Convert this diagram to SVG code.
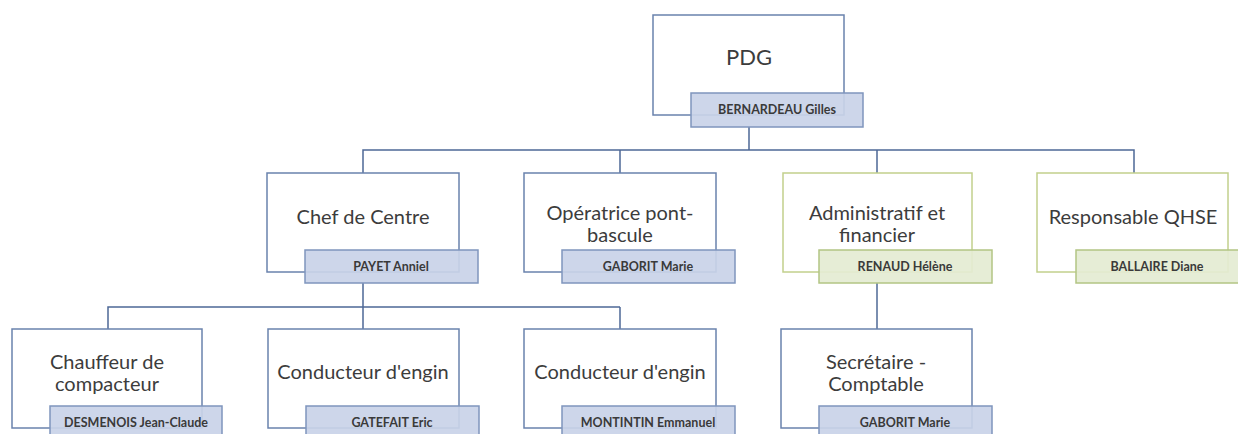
<svg xmlns="http://www.w3.org/2000/svg" width="1238" height="434" viewBox="0 0 1238 434">
<style>
.bb{fill:#fff;stroke:#6a82ad;stroke-width:1.5}
.gb{fill:#fff;stroke:#c2d08c;stroke-width:1.5}
.bn{fill:#c9d3e8;fill-opacity:0.92;stroke:#7f95bd;stroke-width:1.5}
.gn{fill:#e4ebd3;fill-opacity:0.92;stroke:#b3c584;stroke-width:1.5}
.t{font-family:Lato,"Open Sans",sans-serif;font-size:20px;fill:#3c3c3c;text-anchor:middle}
.tp{font-family:Lato,"Open Sans",sans-serif;font-size:22px;fill:#3c3c3c;text-anchor:middle}
.n{font-family:Lato,"Open Sans",sans-serif;font-size:12.5px;font-weight:bold;fill:#3a3a3a;text-anchor:middle}
.c{fill:none;stroke:#4e6896;stroke-width:1.5}
</style>
<g id="connectors">
<path class="c" d="M749 127V150M363 173V150H1134V173M620 150V173M877 150V173"/>
<path class="c" d="M363 283V307H108V329M620 307V329M363 307H620M363 307V329"/>
<path class="c" d="M877 283V329"/>
</g>
<g id="pdg">
<rect class="bb" x="653" y="15" width="191" height="100"/>
<text class="tp" x="749" y="65">PDG</text>
<rect class="bn" x="691" y="93" width="172" height="34"/>
<text class="n" x="777" y="114">BERNARDEAU Gilles</text>
</g>
<g id="chef">
<rect class="bb" x="267" y="173" width="192" height="99"/>
<text class="t" x="363" y="224">Chef de Centre</text>
<rect class="bn" x="305" y="250" width="173" height="33"/>
<text class="n" x="391" y="271">PAYET Anniel</text>
</g>
<g id="operatrice">
<rect class="bb" x="524" y="173" width="192" height="99"/>
<text class="t" x="620" y="220">Opératrice pont-</text>
<text class="t" x="620" y="242">bascule</text>
<rect class="bn" x="562" y="250" width="173" height="33"/>
<text class="n" x="648" y="271">GABORIT Marie</text>
</g>
<g id="admin">
<rect class="gb" x="783" y="173" width="189" height="99"/>
<text class="t" x="877" y="220">Administratif et</text>
<text class="t" x="877" y="242">financier</text>
<rect class="gn" x="819" y="250" width="173" height="33"/>
<text class="n" x="905" y="271">RENAUD Hélène</text>
</g>
<g id="qhse">
<rect class="gb" x="1037" y="173" width="191" height="99"/>
<text class="t" x="1133" y="224">Responsable QHSE</text>
<rect class="gn" x="1076" y="250" width="173" height="33"/>
<text class="n" x="1157" y="271">BALLAIRE Diane</text>
</g>
<g id="chauffeur">
<rect class="bb" x="12" y="329" width="190" height="99"/>
<text class="t" x="107" y="369">Chauffeur de</text>
<text class="t" x="107" y="391">compacteur</text>
<rect class="bn" x="50" y="406" width="172" height="34"/>
<text class="n" x="136" y="427">DESMENOIS Jean-Claude</text>
</g>
<g id="conducteur1">
<rect class="bb" x="268" y="329" width="191" height="99"/>
<text class="t" x="363" y="379">Conducteur d'engin</text>
<rect class="bn" x="306" y="406" width="173" height="34"/>
<text class="n" x="392" y="427">GATEFAIT Eric</text>
</g>
<g id="conducteur2">
<rect class="bb" x="524" y="329" width="192" height="99"/>
<text class="t" x="620" y="379">Conducteur d'engin</text>
<rect class="bn" x="562" y="406" width="173" height="34"/>
<text class="n" x="648" y="427">MONTINTIN Emmanuel</text>
</g>
<g id="secretaire">
<rect class="bb" x="781" y="329" width="191" height="99"/>
<text class="t" x="876" y="369">Secrétaire -</text>
<text class="t" x="876" y="391">Comptable</text>
<rect class="bn" x="819" y="406" width="173" height="34"/>
<text class="n" x="905" y="427">GABORIT Marie</text>
</g>
</svg>
